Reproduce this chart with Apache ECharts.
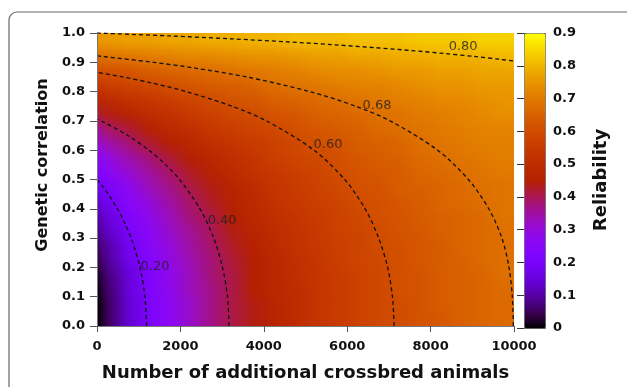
<!DOCTYPE html>
<html>
<head>
<meta charset="utf-8">
<script src="https://cdn.jsdelivr.net/npm/echarts@6/dist/echarts.min.js"></script>
<style>
  html, body { margin: 0; padding: 0; background: #fff; }
  #chart { width: 627px; height: 387px; }
</style>
</head>
<body>
<div id="chart"></div>
<script>
// cell centres of the reliability surface
const xCenters = [250, 750, 1250, 1750, 2250, 2750, 3250, 3750, 4250, 4750,
  5250, 5750, 6250, 6750, 7250, 7750, 8250, 8750, 9250, 9750]
const yCenters = [0.025, 0.075, 0.125, 0.175, 0.225, 0.275, 0.325, 0.375, 0.425, 0.475,
  0.525, 0.575, 0.625, 0.675, 0.725, 0.775, 0.825, 0.875, 0.925, 0.975]

// reliability, one row per yCenter (bottom to top)
const reliability = [
  [0.05, 0.14, 0.21, 0.27, 0.32, 0.37, 0.41, 0.44, 0.47, 0.50, 0.53, 0.55, 0.57, 0.59, 0.60, 0.62, 0.63, 0.65, 0.66, 0.67],
  [0.05, 0.14, 0.21, 0.27, 0.32, 0.37, 0.41, 0.44, 0.47, 0.50, 0.53, 0.55, 0.57, 0.59, 0.60, 0.62, 0.64, 0.65, 0.66, 0.67],
  [0.06, 0.15, 0.22, 0.28, 0.33, 0.37, 0.41, 0.45, 0.48, 0.50, 0.53, 0.55, 0.57, 0.59, 0.61, 0.62, 0.64, 0.65, 0.66, 0.67],
  [0.07, 0.15, 0.22, 0.28, 0.33, 0.38, 0.41, 0.45, 0.48, 0.51, 0.53, 0.55, 0.57, 0.59, 0.61, 0.62, 0.64, 0.65, 0.66, 0.68],
  [0.09, 0.17, 0.23, 0.29, 0.34, 0.38, 0.42, 0.45, 0.48, 0.51, 0.53, 0.56, 0.58, 0.59, 0.61, 0.63, 0.64, 0.65, 0.67, 0.68],
  [0.10, 0.18, 0.25, 0.30, 0.35, 0.39, 0.43, 0.46, 0.49, 0.52, 0.54, 0.56, 0.58, 0.60, 0.61, 0.63, 0.64, 0.66, 0.67, 0.68],
  [0.13, 0.20, 0.26, 0.32, 0.36, 0.40, 0.44, 0.47, 0.50, 0.52, 0.54, 0.57, 0.58, 0.60, 0.62, 0.63, 0.65, 0.66, 0.67, 0.68],
  [0.15, 0.22, 0.28, 0.33, 0.38, 0.41, 0.45, 0.48, 0.51, 0.53, 0.55, 0.57, 0.59, 0.61, 0.62, 0.64, 0.65, 0.66, 0.67, 0.69],
  [0.18, 0.25, 0.30, 0.35, 0.39, 0.43, 0.46, 0.49, 0.52, 0.54, 0.56, 0.58, 0.60, 0.61, 0.63, 0.64, 0.66, 0.67, 0.68, 0.69],
  [0.21, 0.27, 0.33, 0.37, 0.41, 0.44, 0.47, 0.50, 0.53, 0.55, 0.57, 0.59, 0.61, 0.62, 0.64, 0.65, 0.66, 0.67, 0.68, 0.69],
  [0.25, 0.31, 0.35, 0.39, 0.43, 0.46, 0.49, 0.52, 0.54, 0.56, 0.58, 0.60, 0.62, 0.63, 0.64, 0.66, 0.67, 0.68, 0.69, 0.70],
  [0.29, 0.34, 0.38, 0.42, 0.45, 0.48, 0.51, 0.53, 0.56, 0.58, 0.59, 0.61, 0.63, 0.64, 0.65, 0.67, 0.68, 0.69, 0.70, 0.71],
  [0.34, 0.38, 0.42, 0.45, 0.48, 0.51, 0.53, 0.55, 0.57, 0.59, 0.61, 0.62, 0.64, 0.65, 0.66, 0.68, 0.69, 0.70, 0.71, 0.71],
  [0.39, 0.42, 0.46, 0.49, 0.51, 0.54, 0.56, 0.58, 0.59, 0.61, 0.63, 0.64, 0.65, 0.67, 0.68, 0.69, 0.70, 0.71, 0.72, 0.72],
  [0.44, 0.47, 0.50, 0.52, 0.55, 0.57, 0.59, 0.60, 0.62, 0.63, 0.65, 0.66, 0.67, 0.68, 0.69, 0.70, 0.71, 0.72, 0.73, 0.74],
  [0.49, 0.52, 0.54, 0.56, 0.58, 0.60, 0.62, 0.63, 0.65, 0.66, 0.67, 0.68, 0.69, 0.70, 0.71, 0.72, 0.73, 0.73, 0.74, 0.75],
  [0.56, 0.58, 0.59, 0.61, 0.63, 0.64, 0.65, 0.66, 0.68, 0.69, 0.70, 0.71, 0.72, 0.72, 0.73, 0.74, 0.75, 0.75, 0.76, 0.76],
  [0.62, 0.63, 0.65, 0.66, 0.67, 0.68, 0.69, 0.70, 0.71, 0.72, 0.73, 0.74, 0.74, 0.75, 0.76, 0.76, 0.77, 0.77, 0.78, 0.78],
  [0.69, 0.70, 0.71, 0.72, 0.73, 0.73, 0.74, 0.75, 0.75, 0.76, 0.77, 0.77, 0.78, 0.78, 0.79, 0.79, 0.80, 0.80, 0.80, 0.81],
  [0.76, 0.77, 0.77, 0.78, 0.78, 0.79, 0.79, 0.80, 0.80, 0.81, 0.81, 0.81, 0.82, 0.82, 0.82, 0.83, 0.83, 0.83, 0.84, 0.84]
]
// reliability along the edges: x = 0 (per yCenter) and correlation = 0 (per xCenter)
const leftEdge = [0.00, 0.00, 0.01, 0.02, 0.04, 0.06, 0.08, 0.11, 0.14, 0.18,
  0.22, 0.26, 0.31, 0.36, 0.42, 0.48, 0.54, 0.61, 0.68, 0.76]
const bottomEdge = [0.05, 0.14, 0.21, 0.27, 0.32, 0.37, 0.41, 0.44, 0.47, 0.50,
  0.53, 0.55, 0.57, 0.59, 0.60, 0.62, 0.63, 0.65, 0.66, 0.67]
const cornerValue = 0

// dashed contour lines, [animals, correlation]
const contour20 = [[1190, 0], [1150, 0.1], [1030, 0.2], [820, 0.3], [670, 0.35], [490, 0.4], [270, 0.45], [115, 0.48], [0, 0.5]]
const contour40 = [[3165, 0], [3130, 0.1], [3010, 0.2], [2800, 0.3], [2470, 0.4], [1980, 0.5], [1650, 0.55], [1245, 0.6], [740, 0.65], [105, 0.7], [0, 0.707]]
const contour60 = [[7125, 0], [7085, 0.1], [6970, 0.2], [6755, 0.3], [6430, 0.4], [5940, 0.5], [5205, 0.6], [4065, 0.7], [3240, 0.75], [2140, 0.8], [1295, 0.83], [620, 0.85], [0, 0.866]]
const contour68 = [[9985, 0], [9960, 0.1], [9880, 0.2], [9710, 0.3], [9395, 0.4], [8905, 0.5], [8170, 0.6], [7030, 0.7], [6205, 0.75], [5110, 0.8], [3590, 0.85], [2360, 0.88], [1350, 0.9], [135, 0.92], [0, 0.922]]
const contour80 = [[0, 1.0], [1750, 0.99], [3250, 0.98], [4540, 0.97], [5670, 0.96], [6665, 0.95], [7545, 0.94], [8335, 0.93], [9040, 0.92], [9675, 0.91], [10255, 0.90]]

// contour label anchors [animals, correlation, text]
const contourLabels = [[1390, 0.203, '0.20'], [3000, 0.36, '0.40'], [5540, 0.62, '0.60'], [6715, 0.753, '0.68'], [8780, 0.953, '0.80']]

// gnuplot-like black -> purple -> red -> yellow palette
const paletteStops = ['#000000', '#39004f', '#510096', '#6301ce', '#7202f3', '#8004ff', '#8c07f3',
  '#970bce', '#a11096', '#ab174f', '#b42000', '#bd2a00', '#c63700', '#ce4600', '#d55700',
  '#dd6c00', '#e48300', '#eb9d00', '#f2ba00', '#f9db00', '#ffff00']

const FONT = 'DejaVu Sans'

const nx = xCenters.length
const ny = yCenters.length
// [x, y, value, kind]; kind 0 = drawn cell, 1 = edge sample used only for shading
const cells = []
yCenters.forEach((y, j) => {
  xCenters.forEach((x, i) => cells.push([x, y, reliability[j][i], 0]))
})
yCenters.forEach((y, j) => cells.push([0, y, leftEdge[j], 1]))
xCenters.forEach((x, i) => cells.push([x, 0, bottomEdge[i], 1]))
cells.push([0, 0, cornerValue, 1])

const halfX = (xCenters[1] - xCenters[0]) / 2
const halfY = (yCenters[1] - yCenters[0]) / 2
const SUB = 10 // strips per cell, shaded between neighbouring cell colours

function nodeIndex(i, j) {
  if (i >= nx) i = nx - 1
  if (j >= ny) j = ny - 1
  if (i < 0 && j < 0) return nx * ny + ny + nx
  if (i < 0) return nx * ny + j
  if (j < 0) return nx * ny + ny + i
  return j * nx + i
}

// blend of the cell colour with its neighbours, u/v in [-0.5, 0.5]
function shade(api, i, j, u, v) {
  const ni = u >= 0 ? i + 1 : i - 1
  const nj = v >= 0 ? j + 1 : j - 1
  const wu = Math.abs(u) * (ni < 0 ? 2 : 1)
  const wv = Math.abs(v) * (nj < 0 ? 2 : 1)
  const col = (a, b) => api.visual('color', nodeIndex(a, b))
  const c1 = echarts.color.lerp(wu, [col(i, j), col(ni, j)])
  const c2 = echarts.color.lerp(wu, [col(i, nj), col(ni, nj)])
  return echarts.color.lerp(wv, [c1, c2])
}

function vGrad(top, bottom) {
  return new echarts.graphic.LinearGradient(0, 0, 0, 1, [
    { offset: 0, color: top },
    { offset: 1, color: bottom }
  ])
}

const chart = echarts.init(document.getElementById('chart'))

const contourSeries = [contour20, contour40, contour60, contour68, contour80].map(points => ({
  type: 'line',
  xAxisIndex: 0,
  yAxisIndex: 0,
  data: points,
  symbol: 'none',
  smooth: 0.3,
  silent: true,
  clip: true,
  z: 3,
  lineStyle: { color: '#111', width: 1.3, type: [4, 3] }
}))

const option = {
  animation: false,
  grid: [
    { left: 97, top: 33, width: 417, height: 295 },
    { left: 524, top: 33, width: 21, height: 295 }
  ],
  xAxis: [
    {
      type: 'value', gridIndex: 0, min: 0, max: 10000, interval: 2000, position: 'bottom', z: 5,
      axisLine: { show: true, lineStyle: { color: '#555' } },
      axisTick: { show: true, length: 6, lineStyle: { color: '#555' } },
      axisLabel: {
        margin: 14, color: '#111', fontFamily: FONT, fontWeight: 'bold', fontSize: 13,
        formatter: v => String(v)
      },
      splitLine: { show: false },
      name: 'Number of additional crossbred animals',
      nameLocation: 'middle',
      nameGap: 38,
      nameTextStyle: { color: '#111', fontFamily: FONT, fontWeight: 'bold', fontSize: 18 }
    },
    {
      type: 'value', gridIndex: 0, min: 0, max: 10000, position: 'top', z: 5,
      axisLine: { show: true, lineStyle: { color: '#777' } },
      axisTick: { show: false }, axisLabel: { show: false }, splitLine: { show: false }
    },
    { type: 'value', gridIndex: 1, show: false }
  ],
  yAxis: [
    {
      type: 'value', gridIndex: 0, min: 0, max: 1, interval: 0.1, position: 'left', z: 5,
      axisLine: { show: true, lineStyle: { color: '#555' } },
      axisTick: { show: true, length: 7, lineStyle: { color: '#555' } },
      axisLabel: {
        margin: 12, color: '#111', fontFamily: FONT, fontWeight: 'bold', fontSize: 13,
        formatter: v => v.toFixed(1)
      },
      splitLine: { show: false }
    },
    {
      type: 'value', gridIndex: 0, min: 0, max: 1, interval: 0.1, position: 'right', z: 5,
      axisLine: { show: true, lineStyle: { color: '#777' } },
      axisTick: { show: true, inside: true, length: 4, lineStyle: { color: '#555' } },
      axisLabel: { show: false }, splitLine: { show: false }
    },
    {
      type: 'value', gridIndex: 1, min: 0, max: 0.9, interval: 0.1, position: 'right', z: 10,
      axisLine: { show: false },
      axisTick: { show: true, inside: true, length: 7, lineStyle: { color: '#333' } },
      axisLabel: {
        margin: 8, color: '#111', fontFamily: FONT, fontWeight: 'bold', fontSize: 13,
        formatter: v => (v === 0 ? '0' : v.toFixed(1))
      },
      splitLine: { show: false }
    }
  ],
  visualMap: {
    type: 'continuous',
    seriesIndex: 0,
    dimension: 2,
    min: 0,
    max: 0.9,
    calculable: false,
    hoverLink: false,
    left: 524,
    top: 33,
    itemWidth: 21,
    itemHeight: 295,
    padding: 0,
    borderWidth: 1,
    borderColor: '#666',
    inRange: { color: paletteStops }
  },
  graphic: [
    {
      type: 'rect', z: -10, silent: true,
      shape: { x: 9, y: 12, width: 700, height: 500, r: 8 },
      style: { fill: 'none', stroke: '#666', lineWidth: 1.2 }
    },
    {
      type: 'text', x: 43, y: 165, rotation: Math.PI / 2, silent: true,
      style: {
        text: 'Genetic correlation', fill: '#111', fontFamily: FONT, fontWeight: 'bold', fontSize: 16,
        align: 'center', verticalAlign: 'middle'
      }
    },
    {
      type: 'text', x: 601, y: 180, rotation: Math.PI / 2, silent: true,
      style: {
        text: 'Reliability', fill: '#111', fontFamily: FONT, fontWeight: 'bold', fontSize: 18,
        align: 'center', verticalAlign: 'middle'
      }
    }
  ],
  series: [
    {
      type: 'custom',
      xAxisIndex: 0,
      yAxisIndex: 0,
      data: cells,
      encode: { x: 0, y: 1 },
      clip: true,
      silent: true,
      z: 1,
      renderItem: (params, api) => {
        if (api.value(3) !== 0) return null
        const idx = params.dataIndexInside
        const i = idx % nx
        const j = Math.floor(idx / nx)
        const x = api.value(0)
        const y = api.value(1)
        const p0 = api.coord([x - halfX, y + halfY])
        const p1 = api.coord([x + halfX, y - halfY])
        const w = p1[0] - p0[0]
        const h = p1[1] - p0[1]
        const children = []
        for (let k = 0; k < SUB; k++) {
          const u = -0.5 + (k + 0.5) / SUB
          const cTop = shade(api, i, j, u, 0.5)
          const cMid = shade(api, i, j, u, 0)
          const cBot = shade(api, i, j, u, -0.5)
          const sx = p0[0] + (k * w) / SUB
          children.push({
            type: 'rect',
            shape: { x: sx, y: p0[1], width: w / SUB + 1, height: h / 2 + 1 },
            style: { fill: vGrad(cTop, cMid) }
          })
          children.push({
            type: 'rect',
            shape: { x: sx, y: p0[1] + h / 2, width: w / SUB + 1, height: h / 2 + 1 },
            style: { fill: vGrad(cMid, cBot) }
          })
        }
        return { type: 'group', children }
      }
    },
    ...contourSeries,
    {
      type: 'scatter',
      xAxisIndex: 0,
      yAxisIndex: 0,
      data: contourLabels,
      symbolSize: 1,
      silent: true,
      z: 4,
      itemStyle: { color: 'transparent' },
      label: {
        show: true, position: 'inside', formatter: p => p.data[2],
        color: '#222', fontFamily: FONT, fontSize: 13
      }
    }
  ]
}

chart.setOption(option)
</script>
</body>
</html>
